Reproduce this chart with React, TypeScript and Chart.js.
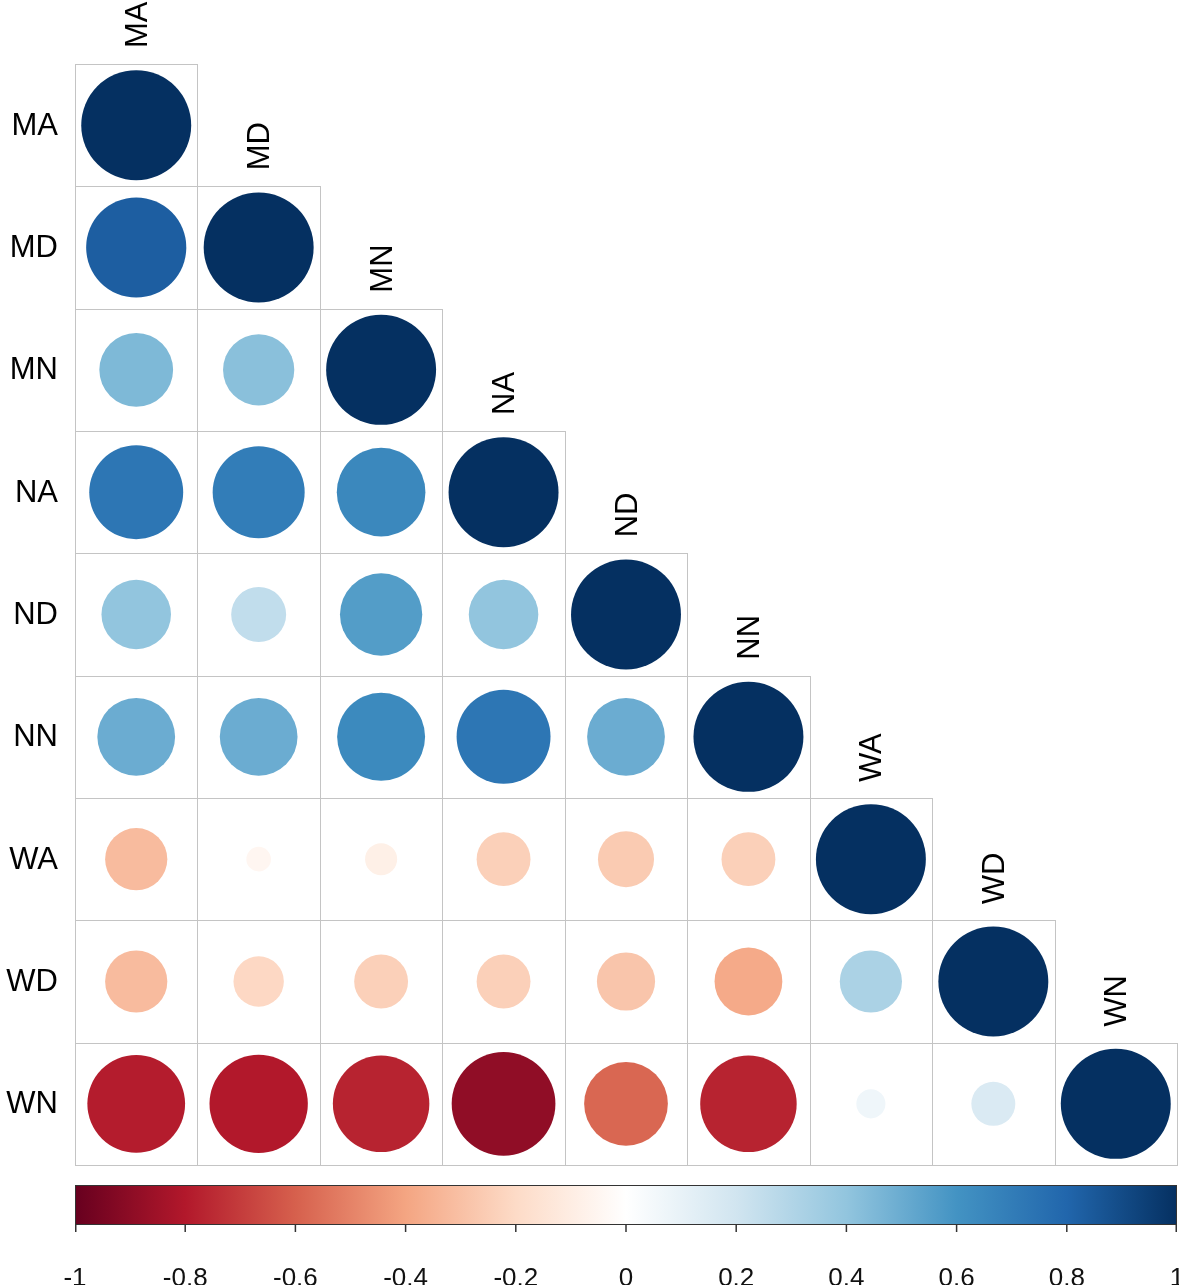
import React, { useEffect, useRef } from "react";
import { Chart, registerables } from "chart.js";

Chart.register(...registerables);

// ---- data ----
const LABELS = ["MA", "MD", "MN", "NA", "ND", "NN", "WA", "WD", "WN"];

// lower-triangular correlation rows (row i holds columns 0..i)
const R_MA = [1];
const R_MD = [0.83, 1];
const R_MN = [0.45, 0.42, 1];
const R_NA = [0.73, 0.7, 0.65, 1];
const R_ND = [0.4, 0.25, 0.56, 0.4, 1];
const R_NN = [0.5, 0.5, 0.64, 0.73, 0.5, 1];
const R_WA = [-0.32, -0.05, -0.085, -0.24, -0.26, -0.24, 1];
const R_WD = [-0.32, -0.21, -0.24, -0.24, -0.28, -0.38, 0.32, 1];
const R_WN = [-0.79, -0.8, -0.77, -0.89, -0.58, -0.77, 0.07, 0.16, 1];
const ROWS = [R_MA, R_MD, R_MN, R_NA, R_ND, R_NN, R_WA, R_WD, R_WN];

const CB_TICKS = [-1, -0.8, -0.6, -0.4, -0.2, 0, 0.2, 0.4, 0.6, 0.8, 1];
const PALETTE = [
  "#67001F", "#B2182B", "#D6604D", "#F4A582", "#FDDBC7", "#FFFFFF",
  "#D1E5F0", "#92C5DE", "#4393C3", "#2166AC", "#053061",
];

function hexToRgb(h: string) {
  const n = parseInt(h.slice(1), 16);
  return [(n >> 16) & 255, (n >> 8) & 255, n & 255];
}

function colorFor(v: number) {
  const t = (Math.max(-1, Math.min(1, v)) + 1) / 2 * (PALETTE.length - 1);
  const i = Math.min(PALETTE.length - 2, Math.floor(t));
  const f = t - i;
  const a = hexToRgb(PALETTE[i]);
  const b = hexToRgb(PALETTE[i + 1]);
  const c = a.map((av, k) => Math.round(av + (b[k] - av) * f));
  return `rgb(${c[0]},${c[1]},${c[2]})`;
}

const POINTS: { x: number; y: number; v: number }[] = [];
ROWS.forEach((row, i) => row.forEach((v, j) => POINTS.push({ x: j, y: i, v })));

const corrPlugin = {
  id: "corrDecor",
  beforeDatasetsDraw(chart: any) {
    const { ctx, scales } = chart;
    const x = scales.x;
    const y = scales.y;
    ctx.save();
    ctx.strokeStyle = "#c4c4c4";
    ctx.lineWidth = 1;
    for (let i = 0; i < LABELS.length; i++) {
      for (let j = 0; j <= i; j++) {
        const x0 = Math.round(x.getPixelForValue(j - 0.5));
        const x1 = Math.round(x.getPixelForValue(j + 0.5));
        const y0 = Math.round(y.getPixelForValue(i - 0.5));
        const y1 = Math.round(y.getPixelForValue(i + 0.5));
        ctx.strokeRect(x0 + 0.5, y0 + 0.5, x1 - x0, y1 - y0);
      }
    }
    ctx.restore();
  },
  afterDraw(chart: any) {
    const { ctx, scales, chartArea } = chart;
    const x = scales.x;
    const y = scales.y;
    const cb = scales.cb;
    ctx.save();
    ctx.fillStyle = "#000";
    // row labels
    ctx.font = "31px Arial, 'Liberation Sans', sans-serif";
    ctx.textAlign = "right";
    ctx.textBaseline = "middle";
    LABELS.forEach((lab, i) => {
      ctx.fillText(lab, chartArea.left - 17, y.getPixelForValue(i) + 1);
    });
    // column labels (rotated, above the diagonal cell)
    ctx.textAlign = "left";
    LABELS.forEach((lab, j) => {
      const cx = x.getPixelForValue(j);
      const top = y.getPixelForValue(j - 0.5);
      ctx.save();
      ctx.translate(cx, top - 16);
      ctx.rotate(-Math.PI / 2);
      ctx.fillText(lab, 0, 2);
      ctx.restore();
    });
    // colour bar
    const bl = cb.getPixelForValue(-1);
    const br = cb.getPixelForValue(1);
    const bt = chartArea.bottom + 20;
    const bb = chartArea.bottom + 59;
    const grad = ctx.createLinearGradient(bl, 0, br, 0);
    PALETTE.forEach((c, k) => grad.addColorStop(k / (PALETTE.length - 1), c));
    ctx.fillStyle = grad;
    ctx.fillRect(bl, bt, br - bl, bb - bt);
    ctx.strokeStyle = "#333";
    ctx.lineWidth = 1;
    ctx.strokeRect(Math.round(bl) + 0.5, bt + 0.5, Math.round(br - bl) - 1, bb - bt);
    ctx.lineWidth = 1.5;
    ctx.fillStyle = "#111";
    ctx.font = "26px Arial, 'Liberation Sans', sans-serif";
    ctx.textAlign = "center";
    ctx.textBaseline = "alphabetic";
    CB_TICKS.forEach((t) => {
      let px = cb.getPixelForValue(t);
      px = Math.min(Math.max(px, bl + 0.75), br - 0.75);
      ctx.beginPath();
      ctx.moveTo(px, bb);
      ctx.lineTo(px, bb + 8);
      ctx.stroke();
      ctx.fillText(String(t), cb.getPixelForValue(t), chartArea.bottom + 121);
    });
    ctx.restore();
  },
};

export default function App() {
  const ref = useRef<HTMLCanvasElement | null>(null);
  useEffect(() => {
    if (!ref.current) return;
    const chart = new Chart(ref.current, {
      type: "scatter",
      data: {
        datasets: [
          {
            data: POINTS as any,
            pointRadius: (c: any) => {
              const xs = c.chart.scales.x;
              const cell = Math.abs(xs.getPixelForValue(1) - xs.getPixelForValue(0));
              return Math.sqrt(Math.abs(c.raw.v)) * cell * 0.449;
            },
            pointBackgroundColor: (c: any) => colorFor(c.raw.v),
            pointBorderWidth: 0,
            pointBorderColor: "rgba(0,0,0,0)",
          } as any,
        ],
      },
      options: {
        animation: false,
        responsive: false,
        events: [],
        layout: { padding: { left: 75, right: 2, top: 64, bottom: 120 } },
        plugins: { legend: { display: false }, tooltip: { enabled: false } },
        scales: {
          x: { type: "linear", min: -0.5, max: 8.5, display: false },
          y: { type: "linear", min: -0.5, max: 8.5, reverse: true, display: false },
          cb: { type: "linear", axis: "x", min: -1, max: 1, display: false },
        } as any,
      },
      plugins: [corrPlugin],
    });
    return () => chart.destroy();
  }, []);
  return (
    <div style={{ position: "absolute", left: 0, top: 0, width: 1179, height: 1285, background: "#fff" }}>
      <canvas ref={ref} width={1179} height={1285} />
    </div>
  );
}
